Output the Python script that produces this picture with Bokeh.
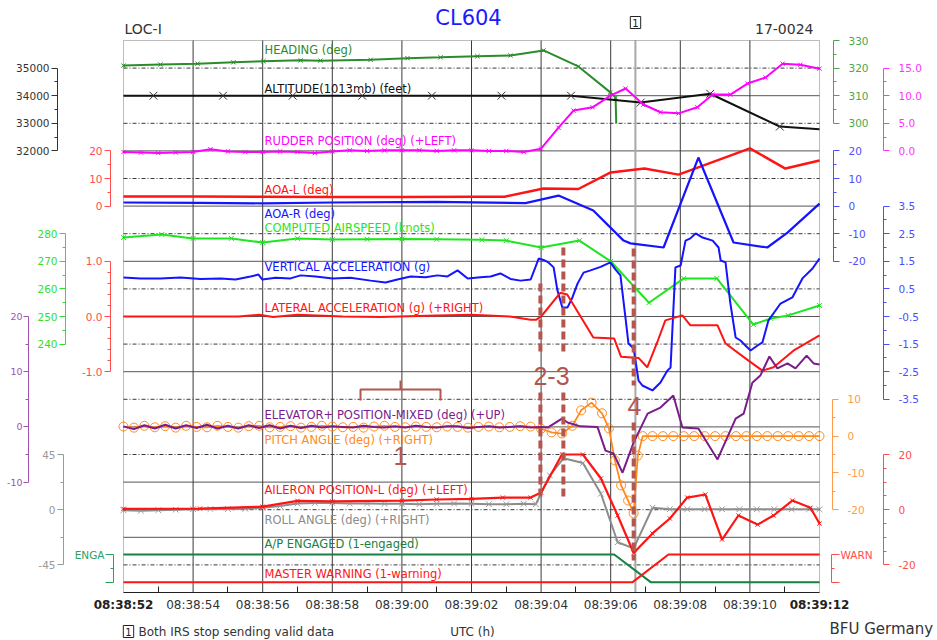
from bokeh.plotting import figure
from bokeh.models import Range1d, LinearAxis, FixedTicker, PrintfTickFormatter, Label, BoxAnnotation
from bokeh.embed import file_html
from bokeh.resources import INLINE

# ---------------- DATA (time in seconds after 08:38:52 UTC) ----------------
time_ticks = [0, 2, 4, 6, 8, 10, 12, 14, 16, 18, 20]
time_labels = ["08:38:52", "08:38:54", "08:38:56", "08:38:58", "08:39:00", "08:39:02",
               "08:39:04", "08:39:06", "08:39:08", "08:39:10", "08:39:12"]
time_minor = [1, 3, 5, 7, 9, 11, 13, 15, 17, 19]

heading_t = [0.0, 1.06, 2.13, 3.16, 4.02, 5.09, 5.66, 7.10, 8.16, 9.11, 10.17, 11.12, 12.07, 13.07, 13.99, 14.14, 14.16]
heading_v = [320.9, 321.3, 321.6, 322.1, 322.5, 322.8, 322.7, 323.0, 323.6, 323.9, 324.3, 324.6, 326.4, 320.6, 311.2, 309.3, 300.0]

altitude_t = [0.0, 0.86, 2.86, 4.86, 6.86, 8.86, 10.86, 12.86, 14.86, 16.86, 18.86, 20.0]
altitude_v = [34000, 34000, 34000, 34000, 34000, 34000, 34000, 34000, 33750, 34070, 32880, 32780]

rudder_t = [0.0, 0.5, 1.0, 1.5, 2.0, 2.5, 3.0, 3.5, 4.0, 4.5, 5.0, 5.5, 6.0, 6.5, 7.0, 7.5, 8.0, 8.5, 9.0, 9.5,
            10.0, 10.5, 11.0, 11.5, 12.0, 12.5, 12.93, 13.48, 13.99, 14.43, 14.94, 15.43, 15.95, 16.49, 16.93,
            17.44, 17.93, 18.45, 18.94, 19.45, 20.0]
rudder_v = [-0.2, -0.3, -0.4, -0.3, -0.2, 0.3, -0.1, -0.2, -0.2, -0.1, -0.2, -0.4, -0.1, 0.1, 0.0, 0.1, 0.1, 0.1, 0.0, 0.1,
            0.1, 0.0, 0.0, -0.2, 0.4, 4.2, 7.3, 7.9, 10.0, 11.3, 8.4, 7.0, 6.8, 7.9, 10.2,
            10.2, 12.2, 13.3, 15.8, 15.6, 14.9]

aoa_l_t = [0.0, 2.0, 4.0, 6.0, 8.0, 10.0, 10.95, 12.07, 13.07, 14.0, 14.97, 15.95, 18.0, 19.02, 20.0]
aoa_l_v = [3.5, 3.5, 3.4, 3.3, 3.3, 3.4, 3.4, 6.4, 6.2, 12.2, 13.6, 11.4, 20.9, 13.6, 16.5]

aoa_r_t = [0.0, 2.2, 4.0, 6.0, 9.0, 11.55, 12.5, 13.5, 14.37, 14.57, 15.52, 16.52, 17.53, 18.5, 19.08, 20.0]
aoa_r_v = [1.3, 1.2, 1.0, 1.3, 1.5, 1.1, 3.8, -1.6, -12.5, -13.5, -15.0, 17.6, -13.2, -15.0, -9.6, 0.9]

cas_t = [0.0, 1.1, 2.0, 3.1, 4.0, 5.0, 6.0, 7.0, 8.0, 9.0, 10.3, 11.0, 12.0, 13.1, 14.0, 15.1, 16.1, 17.05, 18.1, 18.6, 19.1, 20.0]
cas_v = [278.6, 279.7, 278.3, 278.3, 276.8, 278.3, 277.9, 278.0, 278.1, 278.0, 277.8, 277.5, 275.0, 277.5, 270.0, 255.0,
         263.8, 263.8, 247.1, 249.3, 250.4, 254.0]

vacc_t = [0.00, 0.49, 1.06, 1.64, 2.21, 2.79, 3.22, 3.65, 3.88, 3.99, 4.37, 4.80, 5.09, 5.52, 6.01, 6.52, 7.10, 7.53,
          7.87, 8.25, 8.68, 9.02, 9.31, 9.60, 9.89, 10.26, 10.55, 10.83, 11.12, 11.41, 11.70, 11.84, 11.93, 12.07,
          12.21, 12.36, 12.47, 12.61, 12.76, 12.90, 13.05, 13.22, 13.42, 13.71, 13.99, 14.14, 14.28, 14.43, 14.51,
          14.66, 14.80, 14.91, 15.20, 15.43, 15.63, 15.72, 15.86, 16.01, 16.15, 16.29, 16.44, 16.64, 16.93, 17.10,
          17.16, 17.30, 17.44, 17.59, 17.73, 17.87, 18.02, 18.22, 18.36, 18.53, 18.88, 19.22, 19.51, 19.80, 20.00]
vacc_v = [0.91, 0.88, 0.88, 0.91, 0.86, 0.88, 0.84, 0.95, 1.02, 0.84, 0.90, 0.88, 0.99, 0.95, 0.88, 0.90, 0.80, 0.73,
          0.84, 0.95, 0.92, 0.99, 0.95, 1.17, 0.88, 0.92, 0.95, 1.06, 0.86, 0.80, 0.84, 1.30, 1.60, 1.55,
          1.46, 1.28, 0.44, -0.17, -0.17, 0.19, 0.70, 1.09, 1.17, 1.30, 1.46, 1.20, 0.99, -0.60, -1.48,
          -1.66, -2.82, -3.00, -3.18, -2.89, -2.46, -2.35, 1.28, 1.35, 2.25, 2.33, 2.51, 2.36, 2.25, 2.00,
          1.53, 1.46, -0.03, -1.26, -1.37, -1.55, -1.73, -1.55, -1.44, -0.65, -0.03, 0.19, 0.88, 1.24, 1.60]

lacc_t = [0.0, 3.3, 3.9, 4.3, 5.0, 6.3, 7.4, 9.0, 10.0, 11.1, 11.7, 11.85, 12.0, 12.55, 12.75, 13.5, 14.1, 14.3, 14.8,
          15.05, 15.33, 15.57, 16.06, 16.29, 17.07, 17.3, 17.96, 18.36, 18.68, 19.25, 20.0]
lacc_v = [0.0, 0.0, 0.03, -0.01, 0.03, 0.0, -0.01, 0.02, 0.03, 0.0, -0.06, -0.06, 0.0, 0.43, 0.40, -0.38, -0.40, -0.73,
          -0.75, -0.92, -0.48, -0.07, 0.02, -0.16, -0.16, -0.49, -0.80, -0.98, -0.92, -0.62, -0.34]

early_t = [0.0, 0.3, 0.6, 0.9, 1.2, 1.5, 1.8, 2.1, 2.4, 2.7, 3.0, 3.3, 3.6, 3.9, 4.2, 4.5, 4.8, 5.1, 5.4, 5.7,
           6.0, 6.3, 6.6, 6.9, 7.2, 7.5, 7.8, 8.1, 8.4, 8.7, 9.0, 9.3, 9.6, 9.9, 10.2, 10.5, 10.8, 11.1, 11.4, 11.7]

elev_t = early_t + [12.0, 12.2, 12.6, 12.76, 13.13, 13.62, 13.85, 14.08, 14.34, 14.66, 15.06, 15.43, 15.80, 16.06,
                    16.52, 17.07, 17.59, 17.82, 18.07, 18.30, 18.56, 18.79, 19.08, 19.31, 19.63, 19.83, 20.0]
elev_v = [0.1, -0.4, 0.3, -0.3, 0.4, -0.3, 0.3, -0.2, 0.4, -0.3, 0.2, -0.3, 0.3, -0.2, 0.3, -0.3, 0.2, -0.2, 0.2, -0.1,
          0.1, 0.0, -0.1, 0.2, 0.0, -0.1, 0.1, -0.1, 0.2, 0.0, -0.1, 0.1, 0.1, -0.2, 0.0, 0.1, -0.1, 0.0, 0.1, -0.1,
          0.0, -0.1, 1.5, 0.8, 0.1, 0.0, -4.3, -4.8, -8.3, -2.8, 2.4, 3.5, 5.7, -0.1,
          -0.3, -5.9, 1.5, 2.4, 8.0, 9.3, 12.75, 10.6, 11.5, 10.6, 12.9, 11.5, 11.3]

pitch_t = early_t + [12.0, 12.3, 12.6, 12.9, 13.15, 13.45, 13.75, 13.95, 14.12, 14.3, 14.5, 14.66, 14.78, 14.92,
                     15.2, 15.5, 15.8, 16.1, 16.4, 16.7, 17.0, 17.3, 17.6, 17.9, 18.2, 18.5, 18.8, 19.1, 19.4, 19.7, 20.0]
pitch_v = [2.6, 2.3, 2.8, 2.4, 2.7, 2.3, 2.8, 2.5, 2.4, 2.8, 2.5, 2.3, 2.7, 2.8, 2.4, 2.5, 2.7, 2.3, 2.5, 2.8,
           2.6, 2.4, 2.5, 2.3, 2.6, 2.8, 2.5, 2.4, 2.6, 2.5, 2.4, 2.6, 2.5, 2.3, 2.5, 2.6, 2.4, 2.5, 2.7, 2.6,
           2.0, 1.0, 0.7, 2.8, 7.0, 9.1, 6.2, 2.1, -6.6, -13.4, -17.5, -21.0, -5.3, 0.0,
           0.0, 0.0, 0.0, 0.0, 0.0, 0.0, 0.0, 0.0, 0.0, 0.0, 0.0, 0.0, 0.0, 0.0, 0.0, 0.0, 0.0]

ail_t = [0.0, 2.2, 4.0, 5.0, 6.0, 8.0, 9.0, 10.0, 10.9, 11.7, 12.0, 12.6, 13.2, 13.72, 14.2, 14.66, 15.2, 15.7, 16.2,
         16.72, 17.2, 17.67, 18.22, 18.68, 19.22, 19.74, 20.0]
ail_v = [0.3, 0.4, 1.1, 3.2, 3.0, 3.3, 3.7, 3.9, 4.4, 4.4, 6.2, 20.0, 20.0, 11.3, -2.1, -15.7, -8.6, -3.2, 4.4,
         5.5, -10.8, -2.1, -5.4, -2.1, 3.3, 0.7, -5.0]

roll_t = [0.0, 0.5, 1.0, 1.5, 2.0, 2.5, 3.0, 3.5, 4.0, 4.5, 5.0, 5.5, 6.0, 6.5, 7.0, 7.5, 8.0, 8.5, 9.0, 9.5, 10.0,
          10.5, 11.0, 11.5, 11.85, 12.25, 12.65, 13.2, 13.72, 14.2, 14.66, 15.2, 15.7, 16.2, 16.7, 17.2, 17.7,
          18.2, 18.7, 19.2, 19.7, 20.0]
roll_v = [-0.4, -0.8, -0.4, 0.0, 0.4, 0.6, 0.6, 0.8, 1.5, 3.0, 5.0, 5.5, 5.5, 5.0, 5.0, 4.8, 4.8, 4.5, 4.8, 5.0, 4.8,
          4.5, 4.5, 4.8, 4.5, 28.0, 42.0, 38.0, 13.0, -26.5, -31.5, 1.6, 0.4, 0.4, 0.4, 0.4, 0.4,
          0.4, 0.4, 0.4, 0.4, 0.4]

ap_t = [0.0, 14.1, 15.15, 20.0]
ap_v = [1, 1, 0, 0]
mw_t = [0.0, 14.63, 15.66, 20.0]
mw_v = [0, 0, 1, 1]

event_t = [11.98, 12.64, 14.66]   # annotations 2, 3, 4
irs_t = 14.71                      # note 1: both IRS stop sending valid data

# ---------------- LAYOUT ----------------
W, H = 937, 640
BOX_L, BOX_R, BOX_T, BOX_B = 123, 819, 40, 592
PXS = (BOX_R - BOX_L) / 20.0
PXU = (BOX_B - BOX_T) / 20.0


def X(px):
    return (px - BOX_L) / PXS


def Y(py):
    return (BOX_B - py) / PXU


# band placement of every series: (grid unit, value at that unit, value per grid unit)
SCALE = {
    "heading": (17, 300, 10), "altitude": (16, 32000, 1000), "rudder": (16, 0, 5),
    "aoa_l": (14, 0, 10), "aoa_r": (14, 0, 10), "cas": (9, 240, 10), "vacc": (7, -3.5, 1),
    "lacc": (10, 0, 0.5), "elev": (6, 0, 5), "pitch": (3, -20, 7.5), "ail": (3, 0, 10),
    "roll": (3, 0, 22.5), "ap": (0.375, 0, 1), "mw": (0.375, 0, 1),
}

p = figure(width=W, height=H, x_range=Range1d(X(0), X(W)), y_range=Range1d(Y(H), Y(0)),
           output_backend="svg", toolbar_location=None, x_axis_location=None, y_axis_location=None,
           min_border=0, min_border_left=0, min_border_right=0, min_border_top=0, min_border_bottom=0,
           outline_line_color=None, background_fill_color="white", border_fill_color="white")
p.grid.visible = False

p.extra_y_ranges = {k: Range1d(v0 + (Y(H) - u0) * dv, v0 + (Y(0) - u0) * dv) for k, (u0, v0, dv) in SCALE.items()}

FONT = "DejaVu Sans"


def add_axis(name, side, px, lo, hi, ticks, minor, fmt, color, standoff, overrides=None, tick_out=6,
             font_size="10.5px"):
    ax = LinearAxis(y_range_name=name, fixed_location=X(px), bounds=(lo, hi),
                    ticker=FixedTicker(ticks=ticks, minor_ticks=minor),
                    formatter=PrintfTickFormatter(format=fmt))
    ax.axis_line_color = color
    ax.major_tick_line_color = color
    ax.minor_tick_line_color = color
    ax.major_tick_in = 0
    ax.major_tick_out = tick_out
    ax.minor_tick_in = 0
    ax.minor_tick_out = 3
    ax.major_label_text_color = color
    ax.major_label_text_font = FONT
    ax.major_label_text_font_size = font_size
    ax.major_label_standoff = standoff
    if overrides:
        ax.major_label_overrides = overrides
    p.add_layout(ax, side)


C_HEAD, C_HEAD_AX = "#2b8c2b", "#4aa84a"
C_ALT = "#111111"
C_RUD = "#ff00ff"
C_RED = "#ff1414"
C_RED_AX = "#ff4d4d"
C_BLUE = "#1414ff"
C_BLUE_AX = "#4d4dff"
C_CAS = "#1ee61e"
C_ELEV, C_ELEV_AX = "#7b1c8c", "#a054b0"
C_PITCH, C_PITCH_AX = "#ff8a1e", "#ff9a4a"
C_ROLL = "#8c8c8c"
C_AP, C_AP_AX = "#188040", "#2e9e5e"

add_axis("heading", "right", 833, 300, 330, [300, 310, 320, 330], [305, 315, 325], "%d", C_HEAD_AX, 9)
add_axis("altitude", "left", 57, 32000, 35000, [32000, 33000, 34000, 35000], [32500, 33500, 34500], "%d", "#333333", 2)
add_axis("rudder", "right", 883, 0, 15, [0, 5, 10, 15], [2.5, 7.5, 12.5], "%.1f", "#ff33ff", 9)
add_axis("aoa_l", "left", 110, 0, 20, [0, 10, 20], [5, 15], "%d", C_RED_AX, 2)
add_axis("aoa_r", "right", 833, -20, 20, [-20, -10, 0, 10, 20], [-15, -5, 5, 15], "%d", C_BLUE_AX, 9)
add_axis("cas", "left", 65, 240, 280, [240, 250, 260, 270, 280], [245, 255, 265, 275], "%d", "#33dd33", 2)
add_axis("vacc", "right", 883, -3.5, 3.5, [-3.5, -2.5, -1.5, -0.5, 0.5, 1.5, 2.5, 3.5],
         [-3, -2, -1, 0, 1, 2, 3], "%.1f", C_BLUE_AX, 9)
add_axis("lacc", "left", 110, -1, 1, [-1, 0, 1], [-0.8, -0.6, -0.4, -0.2, 0.2, 0.4, 0.6, 0.8], "%.1f", C_RED_AX, 2)
add_axis("elev", "left", 28, -10, 20, [-10, 0, 10, 20], [-5, 5, 15], "%d", C_ELEV_AX, 1, tick_out=5,
         font_size="9.5px")
add_axis("pitch", "right", 832, -20, 10, [-20, -10, 0, 10], [-15, -5, 5], "%d", C_PITCH_AX, 9)
add_axis("ail", "right", 883, -20, 20, [-20, 0, 20], [-15, -10, -5, 5, 10, 15], "%d", C_RED_AX, 9)
add_axis("roll", "left", 63, -45, 45, [-45, 0, 45], [-22.5, 22.5], "%d", "#999999", 2)
add_axis("ap", "left", 113, 0, 1, [0, 1], [0.5], "%d", C_AP_AX, 1, overrides={0: "", 1: "ENGA"}, tick_out=8)
add_axis("mw", "right", 831, 0, 1, [0, 1], [0.5], "%d", C_RED_AX, 1, overrides={0: "", 1: "WARN"}, tick_out=8)

# time axis along the bottom of the chart box (first and last labels are drawn bold below)
overr = {t: s for t, s in zip(time_ticks, time_labels)}
overr[time_ticks[0]] = ""
overr[time_ticks[-1]] = ""
xa = LinearAxis(fixed_location=0, bounds=(0, 20), ticker=FixedTicker(ticks=time_ticks, minor_ticks=time_minor),
                major_label_overrides=overr)
xa.axis_line_color = "#222222"
xa.major_tick_in = 0
xa.major_tick_out = 0
xa.minor_tick_in = 6
xa.minor_tick_out = 0
xa.minor_tick_line_color = "#222222"
xa.major_label_text_font = FONT
xa.major_label_text_font_size = "12px"
xa.major_label_text_color = "#333333"
xa.major_label_standoff = 5
p.add_layout(xa, "below")
for t, s in [(time_ticks[0], time_labels[0]), (time_ticks[-1], time_labels[-1])]:
    p.add_layout(Label(x=t, y=Y(604), text=s, text_align="center", text_baseline="middle",
                       text_font=FONT, text_font_size="12px", text_font_style="bold", text_color="#222222"))

# grid
solid_u = [2, 4, 6, 8, 10, 12, 14, 16, 18]
dash_u = [1, 3, 5, 7, 9, 11, 13, 15, 17, 19]
vert_t = [2, 4, 6, 8, 10, 12, 14, 16, 18]
p.segment(x0=[0] * len(dash_u), x1=[20] * len(dash_u), y0=dash_u, y1=dash_u,
          line_color="#3a3a3a", line_width=1, line_dash="4 2 1 2")
p.segment(x0=[0] * len(solid_u), x1=[20] * len(solid_u), y0=solid_u, y1=solid_u,
          line_color="#555555", line_width=1)
p.segment(x0=vert_t, x1=vert_t, y0=[0] * len(vert_t), y1=[20] * len(vert_t),
          line_color="#3a3a3a", line_width=1)
p.segment(x0=[irs_t], x1=[irs_t], y0=[0], y1=[20], line_color="#a8a8a8", line_width=2)

p.add_layout(BoxAnnotation(left=0, right=20, bottom=0, top=20, fill_alpha=0,
                           line_color="#222222", line_width=1))

# traces
p.line(heading_t, heading_v, y_range_name="heading", line_color=C_HEAD, line_width=2)
p.scatter(heading_t[:-1], heading_v[:-1], y_range_name="heading", marker="x", size=6, line_color=C_HEAD)
p.line(altitude_t, altitude_v, y_range_name="altitude", line_color=C_ALT, line_width=2)
p.scatter(altitude_t[1:-1], altitude_v[1:-1], y_range_name="altitude", marker="x", size=11, line_color="#333333")
p.line(rudder_t, rudder_v, y_range_name="rudder", line_color=C_RUD, line_width=2)
p.scatter(rudder_t, rudder_v, y_range_name="rudder", marker="x", size=6, line_color=C_RUD)
p.line(aoa_l_t, aoa_l_v, y_range_name="aoa_l", line_color=C_RED, line_width=2.5)
p.line(aoa_r_t, aoa_r_v, y_range_name="aoa_r", line_color=C_BLUE, line_width=2.2)
p.line(cas_t, cas_v, y_range_name="cas", line_color=C_CAS, line_width=2)
p.scatter(cas_t, cas_v, y_range_name="cas", marker="x", size=7, line_color=C_CAS)
p.line(vacc_t, vacc_v, y_range_name="vacc", line_color=C_BLUE, line_width=2)
p.line(lacc_t, lacc_v, y_range_name="lacc", line_color=C_RED, line_width=2)
p.line(pitch_t, pitch_v, y_range_name="pitch", line_color=C_PITCH, line_width=1.8)
p.scatter(pitch_t, pitch_v, y_range_name="pitch", marker="circle", size=9, fill_color=None,
          line_color=C_PITCH, line_width=1)
p.line(elev_t, elev_v, y_range_name="elev", line_color=C_ELEV, line_width=2)
p.line(roll_t, roll_v, y_range_name="roll", line_color=C_ROLL, line_width=2)
p.scatter(roll_t, roll_v, y_range_name="roll", marker="x", size=8, line_color="#999999")
p.line(ail_t, ail_v, y_range_name="ail", line_color=C_RED, line_width=2.2)
p.scatter(ail_t, ail_v, y_range_name="ail", marker="x", size=6, line_color=C_RED)
p.line(ap_t, ap_v, y_range_name="ap", line_color=C_AP, line_width=2)
p.line(mw_t, mw_v, y_range_name="mw", line_color=C_RED, line_width=2)

# event annotations (brown dashed markers 2, 3, 4 and bracket 1)
BROWN = "#b5564e"
ev_x = [event_t[0], event_t[0], event_t[1], event_t[1], event_t[2], event_t[2]]
ev_y0 = [Y(283), Y(392), Y(247), Y(392), Y(248), Y(422)]
ev_y1 = [Y(355), Y(498), Y(355), Y(498), Y(385), Y(560)]
p.segment(x0=ev_x, x1=ev_x, y0=ev_y0, y1=ev_y1, line_color=BROWN, line_width=4, line_dash="8 4")
p.multi_line(xs=[[X(360), X(360), X(440), X(440)], [X(400), X(400)]],
             ys=[[Y(400), Y(389), Y(389), Y(400)], [Y(389), Y(380)]], line_color=BROWN, line_width=2)
for txt, px, py in [("2-3", 551, 375), ("4", 634, 405), ("1", 400, 455)]:
    p.add_layout(Label(x=X(px), y=Y(py), text=txt, text_align="center", text_baseline="middle",
                       text_font="Liberation Sans", text_font_size="25px", text_color=BROWN))

# series names
series_labels = [
    ("HEADING (deg)", 49, C_HEAD), ("ALTITUDE(1013mb) (feet)", 88, C_ALT),
    ("RUDDER POSITION (deg) (+LEFT)", 140, C_RUD), ("AOA-L (deg)", 189, C_RED),
    ("AOA-R (deg)", 213, C_BLUE), ("COMPUTED AIRSPEED (knots)", 227, C_CAS),
    ("VERTICAL ACCELERATION (g)", 266, C_BLUE), ("LATERAL ACCELERATION (g) (+RIGHT)", 307, C_RED),
    ("ELEVATOR+ POSITION-MIXED (deg) (+UP)", 414, C_ELEV), ("PITCH ANGLE (deg) (+RIGHT)", 439, C_PITCH),
    ("AILERON POSITION-L (deg) (+LEFT)", 489, C_RED), ("ROLL ANGLE (deg) (+RIGHT)", 519, C_ROLL),
    ("A/P ENGAGED (1-engaged)", 543, C_AP), ("MASTER WARNING (1-warning)", 573, C_RED),
]
for txt, py, col in series_labels:
    p.add_layout(Label(x=X(264), y=Y(py), text=txt, text_align="left", text_baseline="middle",
                       text_font=FONT, text_font_size="11.5px", text_color=col))

# header and footer texts
p.add_layout(Label(x=X(124), y=Y(28), text="LOC-I", text_align="left", text_baseline="middle",
                   text_font=FONT, text_font_size="14px", text_color="#333333"))
p.add_layout(Label(x=X(468), y=Y(17), text="CL604", text_align="center", text_baseline="middle",
                   text_font=FONT, text_font_size="21px", text_color="#1a1aff"))
p.add_layout(Label(x=X(813), y=Y(28), text="17-0024", text_align="right", text_baseline="middle",
                   text_font=FONT, text_font_size="14px", text_color="#333333"))
p.add_layout(Label(x=X(635), y=Y(22), text="1", text_align="center", text_baseline="middle",
                   text_font=FONT, text_font_size="10px", text_color="#222222",
                   border_line_color="#222222", background_fill_color="white", padding=2))
p.add_layout(Label(x=X(128), y=Y(631), text="1", text_align="center", text_baseline="middle",
                   text_font=FONT, text_font_size="10px", text_color="#222222",
                   border_line_color="#222222", background_fill_color="white", padding=2))
p.add_layout(Label(x=X(138), y=Y(631), text="Both IRS stop sending valid data", text_align="left",
                   text_baseline="middle", text_font=FONT, text_font_size="12px", text_color="#333333"))
p.add_layout(Label(x=X(472), y=Y(631), text="UTC (h)", text_align="center", text_baseline="middle",
                   text_font=FONT, text_font_size="12px", text_color="#333333"))
p.add_layout(Label(x=X(829), y=Y(628), text="BFU Germany", text_align="left", text_baseline="middle",
                   text_font=FONT, text_font_size="15px", text_color="#333333"))

open("out.html", "w").write(file_html(p, INLINE, title="CL604"))
